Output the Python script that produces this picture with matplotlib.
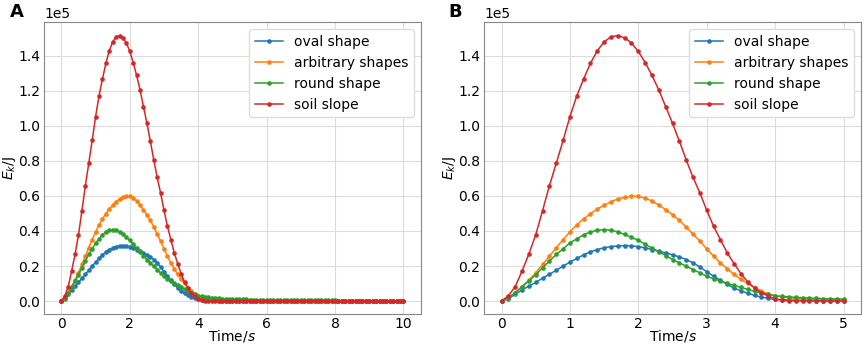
import numpy as np
import matplotlib
matplotlib.use('Agg')
from matplotlib import pyplot as plt

# time axis, 0.1 s steps
t_b = np.round(np.arange(0, 51) * 0.1, 1)
t_a = np.round(np.arange(0, 101) * 0.1, 1)

# kinetic energy, units of 1e4 J, t = 0 .. 5.0 s
oval = [0.0, 0.13, 0.38, 0.63, 0.85, 1.06, 1.31, 1.52, 1.76, 1.99,
        2.22, 2.43, 2.64, 2.81, 2.94, 3.04, 3.11, 3.15, 3.17, 3.15,
        3.11, 3.04, 2.94, 2.85, 2.75, 2.64, 2.52, 2.37, 2.18, 1.94,
        1.67, 1.42, 1.18, 0.95, 0.74, 0.59, 0.44, 0.32, 0.23, 0.15,
        0.09, 0.07, 0.06, 0.05, 0.04, 0.04, 0.03, 0.03, 0.02, 0.02, 0.02]
arbitrary = [0.0, 0.19, 0.47, 0.82, 1.20, 1.61, 2.09, 2.56, 3.04, 3.51,
             3.95, 4.35, 4.69, 4.99, 5.26, 5.46, 5.67, 5.83, 5.92, 5.98,
             5.98, 5.88, 5.71, 5.48, 5.22, 4.93, 4.61, 4.23, 3.81, 3.43,
             2.98, 2.56, 2.18, 1.84, 1.52, 1.23, 1.01, 0.76, 0.57, 0.40,
             0.30, 0.23, 0.19, 0.16, 0.13, 0.11, 0.09, 0.08, 0.07, 0.06, 0.05]
round_ = [0.0, 0.19, 0.47, 0.82, 1.14, 1.50, 1.90, 2.28, 2.66, 2.98,
          3.32, 3.55, 3.78, 3.95, 4.04, 4.08, 4.04, 3.95, 3.80, 3.64,
          3.47, 3.24, 3.02, 2.81, 2.60, 2.37, 2.18, 1.99, 1.80, 1.61,
          1.42, 1.27, 1.14, 1.01, 0.89, 0.78, 0.66, 0.55, 0.47, 0.38,
          0.30, 0.27, 0.23, 0.21, 0.19, 0.17, 0.15, 0.14, 0.13, 0.12, 0.11]
soil = [0.0, 0.30, 0.82, 1.71, 2.68, 3.78, 5.16, 6.58, 7.86, 9.17,
        10.53, 11.71, 12.68, 13.57, 14.29, 14.80, 15.09, 15.16, 15.03, 14.74,
        14.25, 13.62, 12.88, 12.05, 11.10, 10.15, 9.13, 8.06, 7.06, 6.17,
        5.18, 4.27, 3.51, 2.75, 2.13, 1.57, 1.08, 0.74, 0.47, 0.28,
        0.13, 0.04, 0.02, 0.01, 0.01, 0.0, 0.0, 0.0, 0.0, 0.0, 0.0]

# tails for panel A, t = 5.1 .. 10 s (flat, read as near zero)
oval_tail = [0.02] * 10 + [0.01] * 20 + [0.0] * 20
arbitrary_tail = [0.05, 0.04, 0.04, 0.04, 0.03, 0.03, 0.03, 0.03, 0.02, 0.02] + [0.02] * 10 + [0.01] * 20 + [0.0] * 10
round_tail = [0.10, 0.10, 0.09, 0.09, 0.08, 0.08, 0.07, 0.07, 0.06, 0.06] + [0.05] * 10 + [0.04] * 10 + [0.03] * 10 + [0.02] * 10
soil_tail = [0.0] * 50

labels = ['oval shape', 'arbitrary shapes', 'round shape', 'soil slope']
colors = ['#1f77b4', '#ff7f0e', '#2ca02c', '#d62728']

series_b = [oval, arbitrary, round_, soil]
series_a = [oval + oval_tail, arbitrary + arbitrary_tail,
            round_ + round_tail, soil + soil_tail]

plt.rcParams['font.family'] = 'DejaVu Sans'
plt.rcParams['font.size'] = 10

fig = plt.figure(figsize=(8.65, 3.46), dpi=100)
ax_a = fig.add_axes([0.0512, 0.0916, 0.435, 0.844])
ax_b = fig.add_axes([0.560, 0.0916, 0.435, 0.844])

for ax, t, series in [(ax_a, t_a, series_a), (ax_b, t_b, series_b)]:
    for vals, lab, c in zip(series, labels, colors):
        ax.plot(t, np.array(vals) * 1e4, color=c, lw=1.1, marker='o',
                ms=2.3, label=lab)
    ax.grid(True, color='#dddddd', lw=0.8)
    ax.set_axisbelow(True)
    ax.ticklabel_format(style='sci', axis='y', scilimits=(0, 0))
    for s in ax.spines.values():
        s.set_color('#888888')
    ax.tick_params(labelsize=10, length=0, pad=3)
    ax.tick_params(axis='x', pad=2)
    ax.yaxis.get_offset_text().set_fontsize(10)
    ax.set_xlabel('Time/$s$', fontsize=10, labelpad=-2)
    ax.set_ylabel('$E_k$/J', fontsize=10, labelpad=0)
    ax.legend(loc='upper right', fontsize=10, framealpha=1,
              edgecolor='#dddddd', handlelength=2.0)

ax_b.set_xticks([0, 1, 2, 3, 4, 5])
fig.text(0.011, 0.951, 'A', fontsize=13, fontweight='bold')
fig.text(0.518, 0.951, 'B', fontsize=13, fontweight='bold')

fig.savefig('out.png', dpi=100)
